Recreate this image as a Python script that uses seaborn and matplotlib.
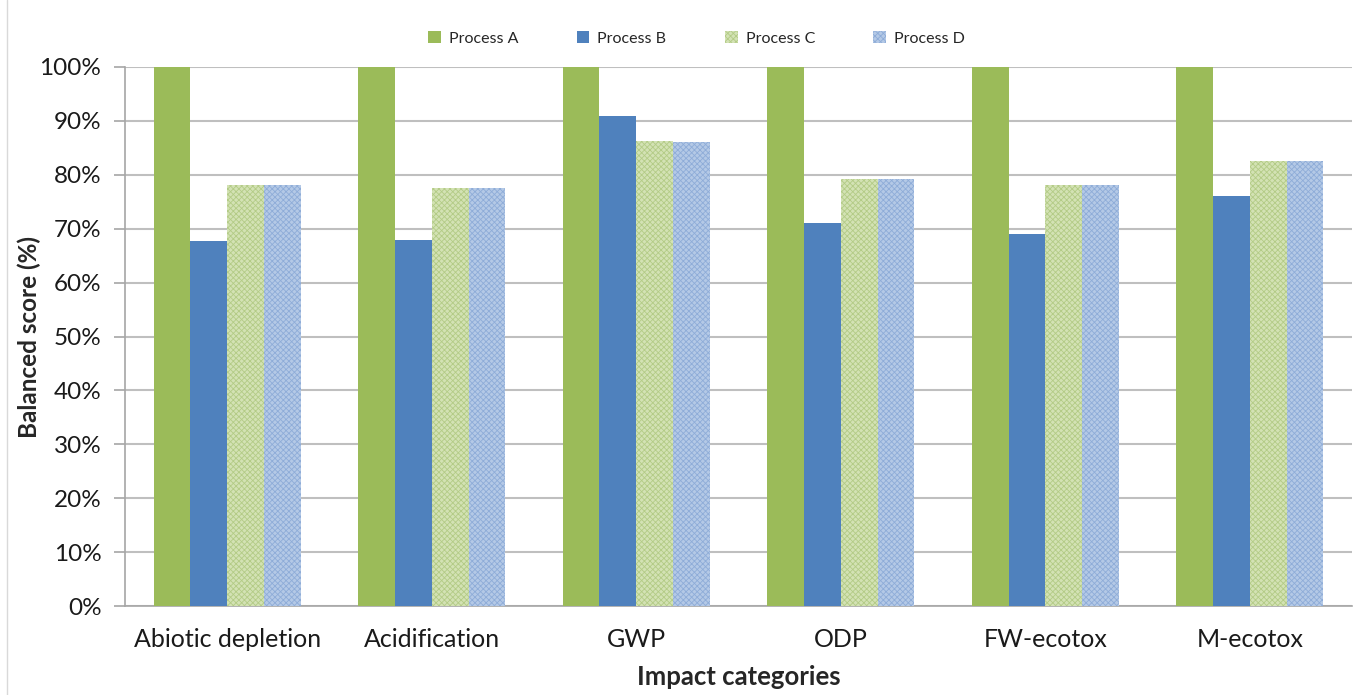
import matplotlib
matplotlib.use("Agg")
import matplotlib.pyplot as plt
from matplotlib.lines import Line2D
from matplotlib.patches import Patch
from matplotlib.ticker import PercentFormatter
import pandas as pd
import seaborn as sns

categories = ["Abiotic depletion", "Acidification", "GWP", "ODP", "FW-ecotox", "M-ecotox"]
processes = ["Process A", "Process B", "Process C", "Process D"]
process_a = [100.0, 100.0, 100.0, 100.0, 100.0, 100.0]
process_b = [67.8, 67.9, 90.9, 71.1, 69.0, 76.1]
process_c = [78.1, 77.6, 86.2, 79.2, 78.2, 82.6]
process_d = [78.1, 77.6, 86.0, 79.2, 78.2, 82.6]
y_ticks = list(range(0, 101, 10))

face_colors = ["#9bbb59", "#4f81bd", "#d3e2b4", "#b4c9e6"]
hatch_colors = [None, None, "#b3cb86", "#8eacd8"]

rows = []
for name, vals in zip(processes, [process_a, process_b, process_c, process_d]):
    for cat, v in zip(categories, vals):
        rows.append({"category": cat, "process": name, "score": v})
df = pd.DataFrame(rows)

sns.set_style("white")
plt.rcParams["font.family"] = ["Lato", "DejaVu Sans"]
plt.rcParams["hatch.linewidth"] = 0.6

fig = plt.figure(figsize=(13.63, 6.95), dpi=100)
ax = fig.add_axes([0.0917, 0.128, 0.9003, 0.7756])

sns.barplot(data=df, x="category", y="score", hue="process", order=categories,
            hue_order=processes, palette=face_colors, width=0.72, gap=0,
            saturation=1, errorbar=None, legend=False, ax=ax, zorder=3)

for i, container in enumerate(ax.containers):
    for bar in container:
        bar.set_linewidth(0)
        if hatch_colors[i] is not None:
            bar.set_hatch("xxxxxx")
            bar.set_edgecolor(hatch_colors[i])
            bar.set_linewidth(0)

ax.set_ylim(0, 100)
ax.set_xlim(-0.5, len(categories) - 0.5)
ax.set_yticks(y_ticks)
ax.yaxis.set_major_formatter(PercentFormatter(decimals=0))
ax.grid(axis="y", color="#bfbfbf", linewidth=1.5, zorder=0)
ax.set_axisbelow(True)

for side in ["top", "right"]:
    ax.spines[side].set_visible(False)
for side in ["left", "bottom"]:
    ax.spines[side].set_color("#a6a6a6")
    ax.spines[side].set_linewidth(1.2)

ax.tick_params(axis="y", which="major", length=8, width=1.2, color="#a6a6a6",
               labelsize=17.5, pad=9, left=True)
ax.tick_params(axis="x", length=0, labelsize=18, pad=16)
for lbl in ax.get_xticklabels() + ax.get_yticklabels():
    lbl.set_color("#1a1a1a")

ax.set_xlabel("Impact categories", fontsize=18.5, fontweight="bold", labelpad=10)
ax.set_ylabel("Balanced score (%)", fontsize=17.5, fontweight="bold")
ax.yaxis.set_label_coords(-0.0686, 0.5)

handles = []
for i, name in enumerate(processes):
    if hatch_colors[i] is None:
        handles.append(Patch(facecolor=face_colors[i], edgecolor="none", label=name))
    else:
        handles.append(Patch(facecolor=face_colors[i], edgecolor=hatch_colors[i],
                             hatch="xxxxxx", linewidth=0, label=name))
fig.legend(handles=handles, loc="center", bbox_to_anchor=(0.511, 0.945), ncol=4,
           frameon=False, fontsize=11.5, handlelength=0.8, handleheight=0.8,
           handletextpad=0.5, columnspacing=3.65)

fig.add_artist(Line2D([0.0055, 0.0055], [0.0, 1.0], color="#d9d9d9", linewidth=1))

fig.savefig("out.png", dpi=100, facecolor="white")
